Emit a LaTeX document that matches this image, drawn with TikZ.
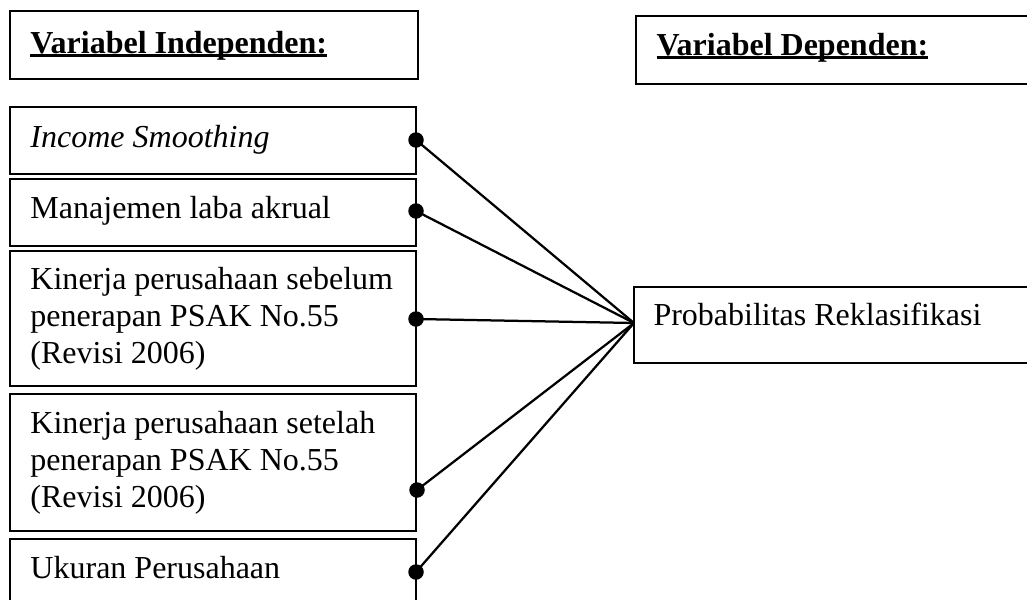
\documentclass[tikz,border=0pt]{standalone}
\usepackage{fontspec}
\setmainfont{Liberation Serif}
\newcommand\hdul[1]{\setbox0\hbox{#1}\rlap{\rule[-1.6pt]{\wd0}{1.1pt}}\box0}
\def\px{0.4pt}
\begin{document}
\begin{tikzpicture}[x=0.4pt,y=-0.4pt,
  box/.style={draw, line width=0.8pt, anchor=north west, inner sep=0pt, outer sep=0pt},
  txt/.style={anchor=base west, inner sep=0pt, font=\fontsize{12.8}{14.8}\selectfont},
  hdr/.style={txt, font=\fontsize{12.8}{14.8}\selectfont\bfseries},
  dot/.style={circle, fill, inner sep=0pt, minimum size=6.2pt},
  conn/.style={line width=0.9pt}]
\useasboundingbox (0,0) rectangle (1027,600);
\clip (0,0) rectangle (1027,600);
% boxes
\node[box, minimum width=408*\px, minimum height=68*\px] (hL) at (10,11) {};
\node[box, minimum width=400*\px, minimum height=68*\px] (hR) at (636,16) {};
\node[box, minimum width=406*\px, minimum height=67*\px] (b1) at (10,107) {};
\node[box, minimum width=406*\px, minimum height=67*\px] (b2) at (10,179) {};
\node[box, minimum width=406*\px, minimum height=135*\px] (b3) at (10,251) {};
\node[box, minimum width=406*\px, minimum height=137*\px] (b4) at (10,394) {};
\node[box, minimum width=406*\px, minimum height=80*\px] (b5) at (10,539) {};
\node[box, minimum width=400*\px, minimum height=76*\px] (p) at (634,287) {};
% texts
\node[hdr] (hLt) at (30,53) {\hdul{Variabel Independen:}};
\node[hdr] (hRt) at (656,55) {\hdul{Variabel Dependen:}};
\node[txt] (t1) at (30,147) {\itshape Income Smoothing};
\node[txt] (t2) at (30,218) {Manajemen laba akrual};
\node[txt] (t3) at (30,289) {\parbox[t]{380\px}{\raggedright Kinerja perusahaan sebelum\\ penerapan PSAK No.55\\ (Revisi 2006)}};
\node[txt] (t4) at (30,433) {\parbox[t]{380\px}{\raggedright Kinerja perusahaan setelah\\ penerapan PSAK No.55\\ (Revisi 2006)}};
\node[txt] (t5) at (30,578) {Ukuran Perusahaan};
\node[txt] (pt) at (653,325) {Probabilitas Reklasifikasi};
% dots
\coordinate (c1) at (416,140);
\coordinate (c2) at (416,211);
\coordinate (c3) at (416,319);
\coordinate (c4) at (417,490);
\coordinate (c5) at (416,572);
\coordinate (pin) at (634,323);
\foreach \i in {1,...,5} {\draw[conn] (c\i) -- (pin);}
\foreach \i in {1,...,5} {\node[dot] (d\i) at (c\i) {};}
\end{tikzpicture}
\end{document}
